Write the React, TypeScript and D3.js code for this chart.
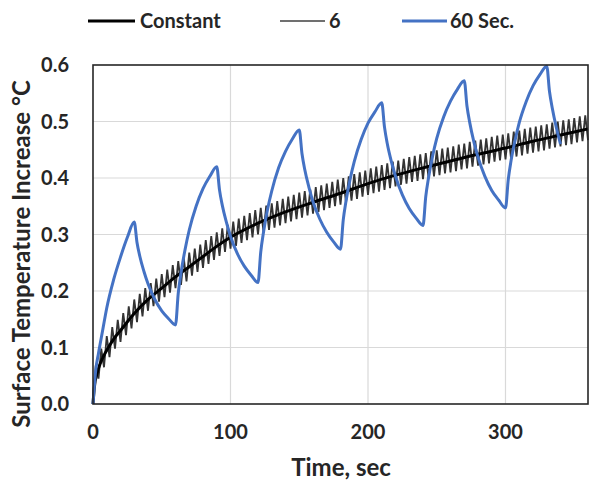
import React from "react";
import * as d3 from "d3";

// ---- Data ----
const constantT = [0, 1, 3, 5, 10, 15, 20, 30, 40, 50, 60, 70, 80, 90, 100, 120, 140, 160, 180, 200, 220, 240, 260, 280, 300, 320, 340, 360];
const constantV = [0, 0.03, 0.055, 0.07, 0.095, 0.115, 0.13, 0.16, 0.185, 0.205, 0.225, 0.243, 0.261, 0.279, 0.295, 0.32, 0.34, 0.357, 0.373, 0.39, 0.405, 0.418, 0.43, 0.442, 0.453, 0.465, 0.476, 0.487];

// 6-second cycle: troughs at t = 0,4,8,...,360 ; peaks at t = 2,6,10,...,358
const sixTroughs = [
  0, 0.045, 0.065, 0.083, 0.098, 0.11, 0.122, 0.134, 0.145, 0.155,
  0.165, 0.173, 0.181, 0.189, 0.197, 0.205, 0.211, 0.217, 0.227, 0.234,
  0.241, 0.248, 0.255, 0.262, 0.269, 0.275, 0.28, 0.285, 0.29, 0.295,
  0.3, 0.304, 0.308, 0.312, 0.316, 0.32, 0.323, 0.327, 0.33, 0.334,
  0.337, 0.34, 0.343, 0.347, 0.35, 0.353, 0.356, 0.36, 0.363, 0.367,
  0.37, 0.373, 0.376, 0.379, 0.382, 0.385, 0.388, 0.39, 0.393, 0.395,
  0.398, 0.4, 0.403, 0.405, 0.408, 0.41, 0.412, 0.415, 0.417, 0.42,
  0.422, 0.424, 0.426, 0.429, 0.431, 0.433, 0.435, 0.438, 0.44, 0.443,
  0.445, 0.447, 0.449, 0.452, 0.454, 0.456, 0.458, 0.46, 0.463, 0.465,
  0.467,
];
const sixPeaks = [
  0.068, 0.098, 0.12, 0.136, 0.149, 0.161, 0.173, 0.185, 0.195, 0.205,
  0.214, 0.222, 0.23, 0.238, 0.246, 0.253, 0.259, 0.268, 0.275, 0.282,
  0.29, 0.297, 0.304, 0.311, 0.317, 0.323, 0.328, 0.333, 0.338, 0.343,
  0.347, 0.351, 0.355, 0.359, 0.363, 0.367, 0.37, 0.374, 0.377, 0.38,
  0.384, 0.387, 0.39, 0.393, 0.397, 0.4, 0.403, 0.407, 0.41, 0.413,
  0.417, 0.42, 0.423, 0.426, 0.429, 0.431, 0.434, 0.437, 0.439, 0.442,
  0.444, 0.447, 0.449, 0.452, 0.454, 0.456, 0.459, 0.461, 0.464, 0.466,
  0.468, 0.47, 0.473, 0.475, 0.477, 0.479, 0.482, 0.484, 0.487, 0.489,
  0.491, 0.493, 0.495, 0.498, 0.5, 0.502, 0.504, 0.506, 0.509, 0.511,
];
const sixStep = 2; // seconds between successive trough/peak samples

// 60-second cycle (30 s on / 30 s off)
const sixtyT = [
  0, 2, 4, 7, 10, 15, 20, 25, 30,
  32, 34, 37, 40, 45, 50, 55, 60,
  62, 64, 67, 70, 75, 80, 85, 90,
  92, 94, 97, 100, 105, 110, 115, 120,
  122, 124, 127, 130, 135, 140, 145, 150,
  152, 154, 157, 160, 165, 170, 175, 180,
  182, 184, 187, 190, 195, 200, 205, 210,
  212, 214, 217, 220, 225, 230, 235, 240,
  242, 244, 247, 250, 255, 260, 265, 270,
  272, 274, 277, 280, 285, 290, 295, 300,
  302, 304, 307, 310, 315, 320, 325, 330,
  332, 334, 337, 340,
];
const sixtyV = [
  0, 0.06, 0.09, 0.13, 0.17, 0.22, 0.26, 0.295, 0.322,
  0.286, 0.262, 0.235, 0.213, 0.185, 0.165, 0.151, 0.14,
  0.196, 0.232, 0.274, 0.308, 0.35, 0.381, 0.403, 0.42,
  0.379, 0.352, 0.322, 0.297, 0.266, 0.244, 0.228, 0.215,
  0.269, 0.304, 0.345, 0.377, 0.418, 0.447, 0.469, 0.485,
  0.443, 0.415, 0.384, 0.358, 0.327, 0.304, 0.287, 0.274,
  0.326, 0.359, 0.398, 0.429, 0.468, 0.497, 0.517, 0.533,
  0.49, 0.461, 0.429, 0.403, 0.37, 0.346, 0.329, 0.316,
  0.367, 0.4, 0.439, 0.47, 0.508, 0.536, 0.557, 0.572,
  0.527, 0.498, 0.464, 0.437, 0.403, 0.378, 0.361, 0.347,
  0.397, 0.43, 0.467, 0.498, 0.535, 0.563, 0.583, 0.598,
  0.553, 0.524, 0.489, 0.46,
];

const xTicks = [0, 100, 200, 300];
const yTicks = [0, 0.1, 0.2, 0.3, 0.4, 0.5, 0.6];
const seriesNames = ["Constant", "6", "60 Sec."];

const W = 596;
const H = 483;
const FONT = "Lato, 'Liberation Sans', sans-serif";

export default function App() {
  const x = d3.scaleLinear().domain([0, 360]).range([93, 588]);
  const y = d3.scaleLinear().domain([0, 0.6]).range([404, 65]);

  const line = d3
    .line<[number, number]>()
    .x((d) => x(d[0]))
    .y((d) => y(d[1]));

  const constantData: [number, number][] = constantT.map((t, i) => [t, constantV[i]]);
  const smooth = d3
    .line<[number, number]>()
    .x((d) => x(d[0]))
    .y((d) => y(d[1]))
    .curve(d3.curveMonotoneX);

  const sixData: [number, number][] = [];
  for (let i = 0; i < sixTroughs.length; i++) {
    sixData.push([i * 2 * sixStep, sixTroughs[i]]);
    if (i < sixPeaks.length) sixData.push([i * 2 * sixStep + sixStep, sixPeaks[i]]);
  }
  const sixtyData: [number, number][] = sixtyT.map((t, i) => [t, sixtyV[i]]);

  const legendY = 21;
  const legend = [
    { name: seriesNames[0], x1: 88, x2: 135, tx: 140, color: "#000", w: 3 },
    { name: seriesNames[1], x1: 280, x2: 325, tx: 329, color: "#404040", w: 1.3 },
    { name: seriesNames[2], x1: 402, x2: 447, tx: 450, color: "#4472C4", w: 3 },
  ];

  return (
    <svg
      width={W}
      height={H}
      style={{ position: "absolute", left: 0, top: 0, background: "#fff" }}
      fontFamily={FONT}
    >
      <rect x={0} y={0} width={W} height={H} fill="#fff" />
      {/* grid */}
      {yTicks.slice(1, -1).map((t) => (
        <line key={"gy" + t} x1={x(0)} x2={x(360)} y1={y(t)} y2={y(t)} stroke="#d9d9d9" strokeWidth={1.2} />
      ))}
      {xTicks.slice(1).map((t) => (
        <line key={"gx" + t} x1={x(t)} x2={x(t)} y1={y(0)} y2={y(0.6)} stroke="#d9d9d9" strokeWidth={1.2} />
      ))}
      {/* series */}
      <path d={line(sixData) || ""} fill="none" stroke="#333" strokeWidth={1.8} strokeLinejoin="miter" />
      <path d={smooth(constantData) || ""} fill="none" stroke="#000" strokeWidth={3} />
      <path d={smooth(sixtyData) || ""} fill="none" stroke="#4472C4" strokeWidth={3} strokeLinejoin="round" />
      {/* frame */}
      <rect x={x(0)} y={y(0.6)} width={x(360) - x(0)} height={y(0) - y(0.6)} fill="none" stroke="#262626" strokeWidth={1.6} />
      {/* y tick labels */}
      {yTicks.map((t) => (
        <text key={"yt" + t} x={69} y={y(t)} dy="0.35em" textAnchor="end" fontSize={20} fontWeight="bold" fill="#262626">
          {t.toFixed(1)}
        </text>
      ))}
      {/* x tick labels */}
      {xTicks.map((t) => (
        <text key={"xt" + t} x={x(t)} y={439} textAnchor="middle" fontSize={20} fontWeight="bold" fill="#262626">
          {t}
        </text>
      ))}
      {/* axis titles */}
      <text x={341} y={476} textAnchor="middle" fontSize={24} fontWeight="bold" fill="#262626">
        Time, sec
      </text>
      <text
        transform={`translate(30, 254) rotate(-90)`}
        textAnchor="middle"
        fontSize={24}
        fontWeight="bold"
        fill="#262626"
      >
        Surface Temperature Increase °C
      </text>
      {/* legend */}
      {legend.map((l) => (
        <g key={l.name}>
          <line x1={l.x1} x2={l.x2} y1={legendY} y2={legendY} stroke={l.color} strokeWidth={l.w} />
          <text x={l.tx} y={legendY} dy="0.35em" fontSize={20} fontWeight="bold" fill="#262626">
            {l.name}
          </text>
        </g>
      ))}
    </svg>
  );
}
